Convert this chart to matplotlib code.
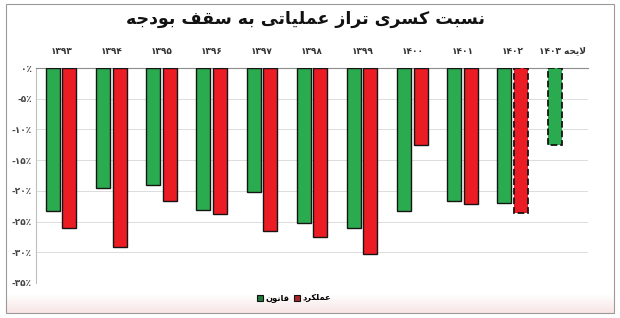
import re
import numpy as np
import matplotlib
matplotlib.use("Agg")
import matplotlib.pyplot as plt
from matplotlib.patches import Patch, Rectangle
from matplotlib import font_manager
from matplotlib.font_manager import FontProperties
from matplotlib.ft2font import FT2Font

# ---------------- data ----------------
categories = ['۱۳۹۳', '۱۳۹۴', '۱۳۹۵', '۱۳۹۶', '۱۳۹۷', '۱۳۹۸', '۱۳۹۹',
              '۱۴۰۰', '۱۴۰۱', '۱۴۰۲', 'لایحه ۱۴۰۳']
law_pct = [-23.3, -19.5, -19.1, -23.1, -20.2, -25.3, -26.0, -23.2, -21.6, -22.0, -12.6]
actual_pct = [-26.1, -29.2, -21.7, -23.7, -26.6, -27.5, -30.2, -12.6, -22.2, -23.6, None]
y_ticks = [0, -5, -10, -15, -20, -25, -30, -35]
title_text = 'نسبت کسری تراز عملیاتی به سقف بودجه'
law_name = 'قانون'
actual_name = 'عملکرد'

# ---------------- simple Persian shaping ----------------
FAMILY = 'DejaVu Sans'
fpath = font_manager.findfont(FontProperties(family=FAMILY, weight='bold'))
cmap = FT2Font(fpath).get_charmap()

def have(chars):
    return all(ord(c) in cmap for c in chars if c)

FORMS = {
    'ا': ('\uFE8D', '\uFE8E', None, None),
    'ب': ('\uFE8F', '\uFE90', '\uFE91', '\uFE92'),
    'ت': ('\uFE95', '\uFE96', '\uFE97', '\uFE98'),
    'ج': ('\uFE9D', '\uFE9E', '\uFE9F', '\uFEA0'),
    'ح': ('\uFEA1', '\uFEA2', '\uFEA3', '\uFEA4'),
    'د': ('\uFEA9', '\uFEAA', None, None),
    'ر': ('\uFEAD', '\uFEAE', None, None),
    'ز': ('\uFEAF', '\uFEB0', None, None),
    'س': ('\uFEB1', '\uFEB2', '\uFEB3', '\uFEB4'),
    'ع': ('\uFEC9', '\uFECA', '\uFECB', '\uFECC'),
    'ف': ('\uFED1', '\uFED2', '\uFED3', '\uFED4'),
    'ق': ('\uFED5', '\uFED6', '\uFED7', '\uFED8'),
    'ک': ('\uFB8E', '\uFB8F', '\uFB90', '\uFB91'),
    'ل': ('\uFEDD', '\uFEDE', '\uFEDF', '\uFEE0'),
    'م': ('\uFEE1', '\uFEE2', '\uFEE3', '\uFEE4'),
    'ن': ('\uFEE5', '\uFEE6', '\uFEE7', '\uFEE8'),
    'ه': ('\uFEE9', '\uFEEA', '\uFEEB', '\uFEEC'),
    'و': ('\uFEED', '\uFEEE', None, None),
    'ی': ('\uFBFC', '\uFBFD', '\uFBFE', '\uFBFF'),
}
if not have(FORMS['ک']):
    FORMS['ک'] = ('\uFED9', '\uFEDA', '\uFEDB', '\uFEDC')
if not have(FORMS['ی']):
    FORMS['ی'] = ('\uFEEF', '\uFEF0', '\uFEF3', '\uFEF4')

DIG = '0-9\u06F0-\u06F9\u0660-\u0669'

def fix_digits(s):
    if all(ord(c) in cmap for c in '۰۱۲۳۴۵۶۷۸۹'):
        return s
    return ''.join(chr(ord(c) - 0x06F0 + 0x0660) if '\u06F0' <= c <= '\u06F9' else c for c in s)

def shape(s):
    out = []
    i = 0
    while i < len(s):
        c = s[i]
        if c not in FORMS:
            out.append(c); i += 1; continue
        prev = s[i - 1] if i > 0 else None
        jp = prev is not None and prev in FORMS and FORMS[prev][2] is not None
        if c == 'ل' and i + 1 < len(s) and s[i + 1] == 'ا':
            out.append('\uFEFC' if jp else '\uFEFB'); i += 2; continue
        nxt = s[i + 1] if i + 1 < len(s) else None
        jn = FORMS[c][2] is not None and nxt is not None and nxt in FORMS
        form = 3 if (jp and jn) else 1 if jp else 2 if jn else 0
        out.append(FORMS[c][form]); i += 1
    return ''.join(out)

def fa(s):
    sh = fix_digits(shape(s))
    toks = re.findall('[' + DIG + ']+|[^' + DIG + ']+', sh)
    return ''.join(t if re.match('[' + DIG + ']', t) else t[::-1] for t in reversed(toks))

def fa_num(v):
    s = str(abs(v)).translate(str.maketrans('0123456789', '۰۱۲۳۴۵۶۷۸۹'))
    s = fix_digits(s)
    pct = '٪' if ord('٪') in cmap else '%'
    return ('-' if v < 0 else '') + s + pct

plt.rcParams['font.family'] = [FAMILY]

# ---------------- figure ----------------
W, H = 620, 318
fig = plt.figure(figsize=(W / 100, H / 100), dpi=100)
fig.patch.set_facecolor('white')

# faint pink band at the bottom
bg = fig.add_axes([0, 0, 1, 1], zorder=-5)
bg.set_xlim(0, W); bg.set_ylim(H, 0); bg.axis('off')
grad = np.linspace(0, 1, 60)[:, None]
bg.imshow(grad, extent=(6, 614, 313, 294), cmap=matplotlib.colors.LinearSegmentedColormap.from_list(
    'p', ['#ffffff', '#f8e4e4']), aspect='auto', zorder=0)
bg.add_patch(Rectangle((6, 4), 608, 309, fill=False, edgecolor='#9a9a9a', lw=0.8, zorder=2))

ax = fig.add_axes([36 / W, 1 - 283 / H, (588 - 36) / W, (283 - 68) / H])
ax.set_facecolor('none')
x = np.arange(len(categories))
bw = 0.28
off = 0.165
green = '#2bab4f'
red = '#ec1c24'
edge = '#151515'

for i in x:
    ls = '--' if i == len(categories) - 1 else '-'
    ax.bar(i - off, law_pct[i], width=bw, color=green, edgecolor=edge,
           linewidth=1.3 if ls == '--' else 1.0, linestyle=ls, zorder=3)
    if actual_pct[i] is not None:
        ls2 = '--' if i == len(categories) - 2 else '-'
        ax.bar(i + off, actual_pct[i], width=bw, color=red, edgecolor=edge,
               linewidth=1.3 if ls2 == '--' else 1.0, linestyle=ls2, zorder=3)

ax.set_xlim(-0.5, len(categories) - 0.5)
ax.set_ylim(-35, 0)
ax.set_yticks(y_ticks)
ax.set_yticklabels([fa_num(v) for v in y_ticks], fontsize=6.5, fontweight='bold', color='#444444')
ax.yaxis.grid(True, color='#dcdcdc', lw=0.7, zorder=0)
ax.tick_params(axis='y', length=0, pad=3)

ax.xaxis.tick_top()
ax.set_xticks(x)
ax.set_xticklabels([fa(c) for c in categories], fontsize=6.5, fontweight='bold', color='#333333')
ax.tick_params(axis='x', length=0, pad=9)

for s in ['right', 'bottom']:
    ax.spines[s].set_visible(False)
ax.spines['top'].set_color('#8c8c8c')
ax.spines['top'].set_linewidth(0.8)
ax.spines['left'].set_color('#bfbfbf')
ax.spines['left'].set_linewidth(0.8)

fig.text(306 / W, 1 - 19 / H, fa(title_text), fontsize=12.5, fontweight='bold',
         ha='center', va='center', color='#111111')

handles = [Patch(facecolor='#1f7a3a', edgecolor='#111111', lw=0.8, label=fa(law_name)),
           Patch(facecolor='#a8262b', edgecolor='#111111', lw=0.8, label=fa(actual_name))]
leg = fig.legend(handles=handles, loc='center', bbox_to_anchor=(294 / W, 1 - 298 / H),
                 ncol=2, frameon=False, handlelength=0.7, handleheight=0.7,
                 handletextpad=0.3, columnspacing=0.6,
                 prop={'family': FAMILY, 'size': 6, 'weight': 'bold'})

fig.savefig('out.png', dpi=100, facecolor='white')
